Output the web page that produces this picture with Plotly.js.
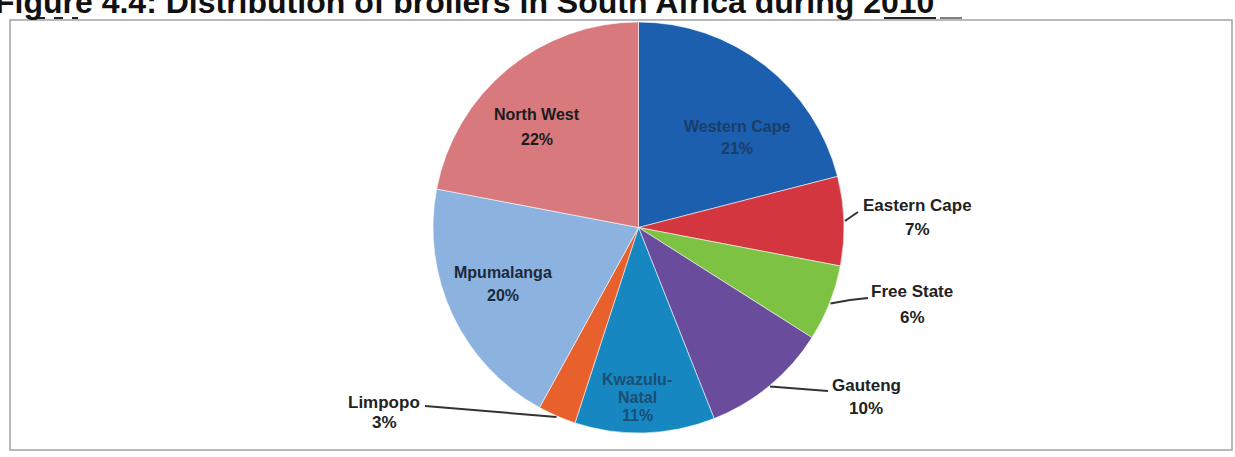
<!DOCTYPE html>
<html>
<head>
<meta charset="utf-8">
<script src="https://cdn.plot.ly/plotly-3.0.1.min.js"></script>
<style>html,body{margin:0;padding:0;background:#fff;}#chart{width:1235px;height:457px;}</style>
</head>
<body>
<div id="chart"></div>
<script>
// ---- data ----
const categories = ['Western Cape','Eastern Cape','Free State','Gauteng','Kwazulu-Natal','Limpopo','Mpumalanga','North West'];
const values = [21, 7, 6, 10, 11, 3, 20, 22];
const labelLines = [['Western Cape'],['Eastern Cape'],['Free State'],['Gauteng'],['Kwazulu-','Natal'],['Limpopo'],['Mpumalanga'],['North West']];
const titleText = 'Figure 4.4: Distribution of broilers in South Africa during 2010';

// ---- styles / layout constants ----
const sliceColors = ['#1b5fae','#d3363f','#7dc243','#6a4c9c','#1787c2','#e8612c','#8cb2e0','#d8797d'];
const W = 1235, H = 457;
const px = x => x / W, py = y => 1 - y / H;
const pieBox = {x0: 432, x1: 845, y0: 22, y1: 433};
const cx = (pieBox.x0 + pieBox.x1) / 2, cy = (pieBox.y0 + pieBox.y1) / 2;
const R = Math.min(pieBox.x1 - pieBox.x0, pieBox.y1 - pieBox.y0) / 2;
// label placement (pixel centre of first line), line gap, colour, leader path
const labelPlace = [
  {x: 737, y: 126, gap: 22, color: '#1d3c6a', size: 16},
  {x: 918, y: 205, gap: 25, color: '#222', size: 17, leader: [[858, 212]]},
  {x: 912, y: 291, gap: 26, color: '#222', size: 17, leader: [[850, 300], [868, 298]]},
  {x: 866, y: 385, gap: 23, color: '#222', size: 17, leader: [[828, 391]]},
  {x: 637, y: 379, gap: 18, color: '#1b4e72', size: 16},
  {x: 384, y: 402, gap: 20, color: '#222', size: 17, leader: [[425, 406]]},
  {x: 503, y: 272, gap: 23, color: '#1c2838', size: 16},
  {x: 537, y: 115, gap: 24, color: '#1b1b1b', size: 16}
];
const FONT = 'Liberation Sans, Arial, sans-serif';

const total = values.reduce((a, b) => a + b, 0);
const annotations = [];
const shapes = [];
let cum = 0;
values.forEach((v, i) => {
  const mid = (cum + v / 2) / total * 2 * Math.PI;
  cum += v;
  const lp = labelPlace[i];
  const lines = labelLines[i].concat([Math.round(v / total * 100) + '%']);
  lines.forEach((t, k) => {
    annotations.push({
      xref: 'paper', yref: 'paper', x: px(lp.x), y: py(lp.y + k * lp.gap),
      xanchor: 'center', yanchor: 'middle', showarrow: false,
      text: '<b>' + t + '</b>',
      font: {family: FONT, size: lp.size, color: lp.color}
    });
  });
  if (lp.leader) {
    let prev = [cx + (R + 1) * Math.sin(mid), cy - (R + 1) * Math.cos(mid)];
    lp.leader.forEach(p => {
      shapes.push({type: 'line', xref: 'paper', yref: 'paper',
        x0: px(prev[0]), y0: py(prev[1]), x1: px(p[0]), y1: py(p[1]),
        line: {color: '#333', width: 2}});
      prev = p;
    });
  }
});

// title (top cut off, as in source)
annotations.push({xref: 'paper', yref: 'paper', x: px(936), y: py(2), xanchor: 'right', yanchor: 'middle',
  showarrow: false, text: '<b>' + titleText + '</b>', font: {family: FONT, size: 32, color: '#111'}});
// frame
shapes.push({type: 'rect', xref: 'paper', yref: 'paper', x0: px(10), x1: px(1232), y0: py(450), y1: py(20),
  line: {color: '#a3a3a3', width: 1.5}});
// underlines of title
shapes.push({type: 'line', xref: 'paper', yref: 'paper', x0: px(884), x1: px(936), y0: py(18), y1: py(18), line: {color: '#222', width: 2}});
shapes.push({type: 'line', xref: 'paper', yref: 'paper', x0: px(940), x1: px(962), y0: py(18), y1: py(18), line: {color: '#555', width: 1.5}});
shapes.push({type: 'line', xref: 'paper', yref: 'paper', x0: px(36), x1: px(78), y0: py(18), y1: py(18), line: {color: '#222', width: 2, dash: 'dash'}});

const trace = {
  type: 'pie', labels: categories, values: values, sort: false, direction: 'clockwise', rotation: 0,
  marker: {colors: sliceColors, line: {color: 'rgba(255,255,255,0.55)', width: 1}},
  textinfo: 'none', hoverinfo: 'none', showlegend: false,
  domain: {x: [px(pieBox.x0), px(pieBox.x1)], y: [py(pieBox.y1), py(pieBox.y0)]}
};

Plotly.newPlot('chart', [trace], {
  width: W, height: H, margin: {l: 0, r: 0, t: 0, b: 0},
  paper_bgcolor: '#fff', plot_bgcolor: '#fff', showlegend: false,
  annotations: annotations, shapes: shapes
}, {displayModeBar: false, staticPlot: true});
</script>
</body>
</html>
